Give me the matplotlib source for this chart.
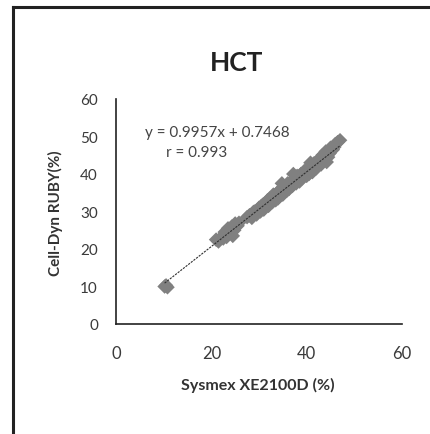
import matplotlib
matplotlib.use("Agg")
import matplotlib.pyplot as plt
import numpy as np
from matplotlib.lines import Line2D

plt.rcParams['font.family'] = ['Lato', 'DejaVu Sans']

title = "HCT"
x_label = "Sysmex XE2100D (%)"
y_label = "Cell-Dyn RUBY(%)"
x_ticks = [0, 20, 40, 60]
y_ticks = [0, 10, 20, 30, 40, 50, 60]
slope = 0.9957
intercept = 0.7468
r_value = 0.993

sysmex = [10.2, 10.5, 10.8,
          21.0, 21.5, 22.0, 22.5, 23.0, 23.2, 23.5, 24.0, 24.3, 24.8, 25.0, 25.5, 25.8, 24.5, 22.8,
          27.5, 28.0, 28.5, 29.0, 29.5, 30.0, 30.3, 30.8, 31.0, 31.5, 32.0, 32.3, 32.8, 33.0, 33.5,
          33.8, 34.0, 34.5, 35.0, 35.3, 35.8, 36.0, 36.3, 36.8, 37.0, 37.5, 37.8, 38.0, 38.5, 38.8,
          39.0, 39.5, 40.0, 40.3, 40.5, 41.0, 41.2, 41.8, 42.0, 42.5, 43.0, 43.3, 43.8, 44.0, 44.5,
          45.0, 45.5, 46.0, 46.5, 47.0, 44.2, 40.8, 37.2, 34.8,
          28.8, 31.8, 33.2, 36.5, 39.2, 41.5, 42.8, 44.8, 45.8, 38.2, 35.5, 30.5]
ruby = [10.0, 10.3, 9.8,
        22.5, 22.0, 23.0, 22.8, 24.0, 23.2, 25.5, 24.5, 26.0, 25.0, 26.8, 26.2, 27.0, 23.5, 24.5,
        28.5, 29.0, 28.3, 30.0, 29.2, 31.0, 30.0, 31.8, 30.5, 32.5, 31.5, 33.5, 32.5, 34.5, 33.0,
        35.0, 33.5, 35.8, 34.5, 36.5, 35.5, 37.5, 36.0, 38.0, 36.8, 38.8, 37.5, 39.5, 38.0, 40.0,
        38.8, 40.8, 39.5, 41.5, 40.0, 42.0, 40.5, 43.0, 41.5, 43.8, 42.5, 45.0, 44.0, 46.0, 44.5,
        47.0, 46.5, 48.0, 48.5, 49.0, 43.2, 43.0, 40.0, 37.5,
        29.8, 33.0, 34.0, 37.0, 40.2, 42.8, 44.0, 45.5, 47.2, 39.0, 36.5, 31.5]

W, H = 431, 435
fig = plt.figure(figsize=(W / 100, H / 100), dpi=100)
fig.patch.set_facecolor('white')

ax = fig.add_axes([116 / W, 1 - 325 / H, (402 - 116) / W, (325 - 100) / H])
ax.scatter(sysmex, ruby, marker='D', s=55, color='#808080', edgecolors='none', zorder=2)
xs = np.array([min(sysmex), max(sysmex)])
ax.plot(xs, slope * xs + intercept, color='#303030', lw=0.8, ls=(0, (2, 1)), zorder=3)

ax.set_xlim(0, 60)
ax.set_ylim(0, 60)
ax.set_xticks(x_ticks)
ax.set_yticks(y_ticks)
ax.tick_params(axis='both', length=0, labelcolor='#3a3a3a')
ax.tick_params(axis='x', pad=15, labelsize=12)
ax.tick_params(axis='y', pad=13, labelsize=11)
for s in ['top', 'right']:
    ax.spines[s].set_visible(False)
for s in ['left', 'bottom']:
    ax.spines[s].set_color('#222222')
    ax.spines[s].set_linewidth(1.2)

ax.text(6.1, 51.2, f"y = {slope}x + {intercept}", fontsize=11, color='#444444', va='center')
ax.text(10.5, 45.9, f"r = {r_value}", fontsize=11, color='#444444', va='center')

fig.text(237 / W, 1 - 63 / H, title, ha='center', va='center', fontsize=19, fontweight='bold', color='#222222')
fig.text(258 / W, 1 - 385 / H, x_label, ha='center', va='center', fontsize=11.5, fontweight='bold', color='#333333')
fig.text(55 / W, 1 - 213 / H, y_label, ha='center', va='center', fontsize=11, fontweight='bold', color='#333333', rotation=90)

fig.add_artist(Line2D([13 / W, 13 / W], [0, 1 - 8 / H], transform=fig.transFigure, color='#222222', lw=2.2))
fig.add_artist(Line2D([13 / W, 1], [1 - 8 / H, 1 - 8 / H], transform=fig.transFigure, color='#222222', lw=2.2))

fig.savefig("out.png", dpi=100)
